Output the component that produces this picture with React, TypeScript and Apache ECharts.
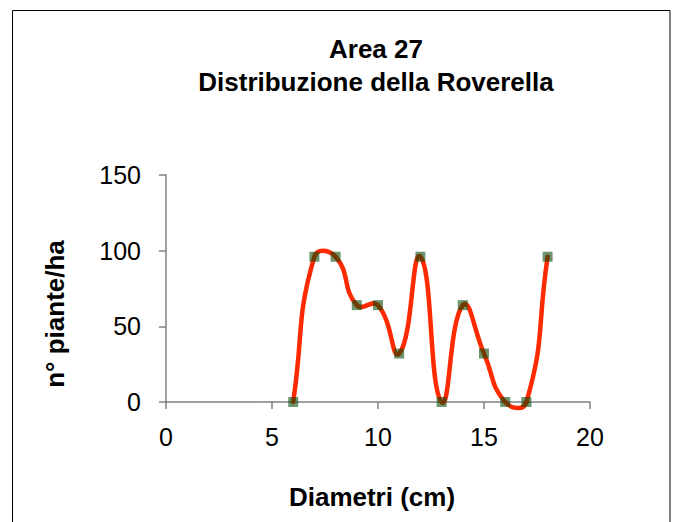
import React, { useEffect, useRef } from "react";
import * as echarts from "echarts";

const diameters = [6, 7, 8, 9, 10, 11, 12, 13, 14, 15, 16, 17, 18];
const plants = [0, 96, 96, 64, 64, 32, 96, 0, 64, 32, 0, 0, 96];
const titleLines = ["Area 27", "Distribuzione della Roverella"];
const xName = "Diametri (cm)";
const yName = "n° piante/ha";

export default function App() {
  const ref = useRef<HTMLDivElement>(null);
  useEffect(() => {
    const chart = echarts.init(ref.current!, null, { renderer: "svg" });
    const font = "Liberation Sans, Arial, sans-serif";
    const n = diameters.length;
    const tension = 0.5;
    const points = diameters.map((d, i) => [d, plants[i]]);

    const renderSegment = (params: any, api: any) => {
      const i = params.dataIndex;
      if (i >= n - 1) return null;
      const P = (j: number) => {
        const k = Math.max(0, Math.min(n - 1, j));
        return api.coord([diameters[k], plants[k]]);
      };
      const p0 = P(i - 1), p1 = P(i), p2 = P(i + 1), p3 = P(i + 2);
      const dist = (a: number[], b: number[]) => Math.hypot(a[0] - b[0], a[1] - b[1]);
      const d01 = dist(p0, p1), d12 = dist(p1, p2), d23 = dist(p2, p3);
      const f1 = d01 + d12 > 0 ? (tension * d12) / (d01 + d12) : 0;
      const f2 = d12 + d23 > 0 ? (tension * d12) / (d12 + d23) : 0;
      const cp1 = [p1[0] + (p2[0] - p0[0]) * f1, p1[1] + (p2[1] - p0[1]) * f1];
      const cp2 = [p2[0] - (p3[0] - p1[0]) * f2, p2[1] - (p3[1] - p1[1]) * f2];
      return {
        type: "bezierCurve",
        shape: {
          x1: p1[0], y1: p1[1], x2: p2[0], y2: p2[1],
          cpx1: cp1[0], cpy1: cp1[1], cpx2: cp2[0], cpy2: cp2[1],
        },
        style: { stroke: "#ff2a00", lineWidth: 4.5, fill: "none", lineCap: "round" },
      };
    };

    chart.setOption({
      animation: false,
      backgroundColor: "#ffffff",
      title: {
        text: titleLines.join("\n"),
        left: 371,
        top: 27,
        textAlign: "center",
        textStyle: { fontFamily: font, fontWeight: "bold", fontSize: 26, lineHeight: 33, color: "#000" },
      },
      graphic: [
        {
          type: "rect",
          shape: { x: 12.5, y: 10.5, width: 657.5, height: 530 },
          style: { fill: "none", stroke: "#000", lineWidth: 1 },
          silent: true,
        },
        {
          type: "text",
          x: 55,
          y: 314,
          rotation: Math.PI / 2,
          style: {
            text: yName,
            fontFamily: font,
            fontWeight: "bold",
            fontSize: 26,
            fill: "#000",
            align: "center",
            verticalAlign: "middle",
          },
          silent: true,
        },
      ],
      grid: { left: 166, top: 175, width: 424, height: 227, containLabel: false },
      xAxis: {
        type: "value",
        min: 0,
        max: 20,
        interval: 5,
        name: xName,
        nameLocation: "middle",
        nameGap: 82,
        nameTextStyle: { fontFamily: font, fontWeight: "bold", fontSize: 26, color: "#000", padding: [0, 12, 0, 0] },
        axisLine: { show: true, lineStyle: { color: "#808080", width: 1.5 } },
        axisTick: { show: true, length: 7, lineStyle: { color: "#808080", width: 1.5 } },
        axisLabel: { fontFamily: font, fontSize: 25, color: "#000", margin: 22 },
        splitLine: { show: false },
      },
      yAxis: {
        type: "value",
        min: 0,
        max: 150,
        interval: 50,
        axisLine: { show: true, lineStyle: { color: "#808080", width: 1.5 } },
        axisTick: { show: true, length: 7, lineStyle: { color: "#808080", width: 1.5 } },
        axisLabel: { fontFamily: font, fontSize: 25, color: "#000", margin: 25 },
        splitLine: { show: false },
      },
      series: [
        {
          type: "custom",
          data: points,
          encode: { x: 0, y: 1 },
          renderItem: renderSegment,
          clip: false,
          z: 2,
        },
        {
          type: "scatter",
          data: points,
          symbol: "rect",
          symbolSize: 10,
          itemStyle: { color: "rgb(5,74,5)", opacity: 0.58 },
          z: 3,
        },
      ],
    });
    return () => chart.dispose();
  }, []);
  return (
    <div
      ref={ref}
      style={{ position: "fixed", left: 0, top: 0, width: 675, height: 522 }}
    />
  );
}
